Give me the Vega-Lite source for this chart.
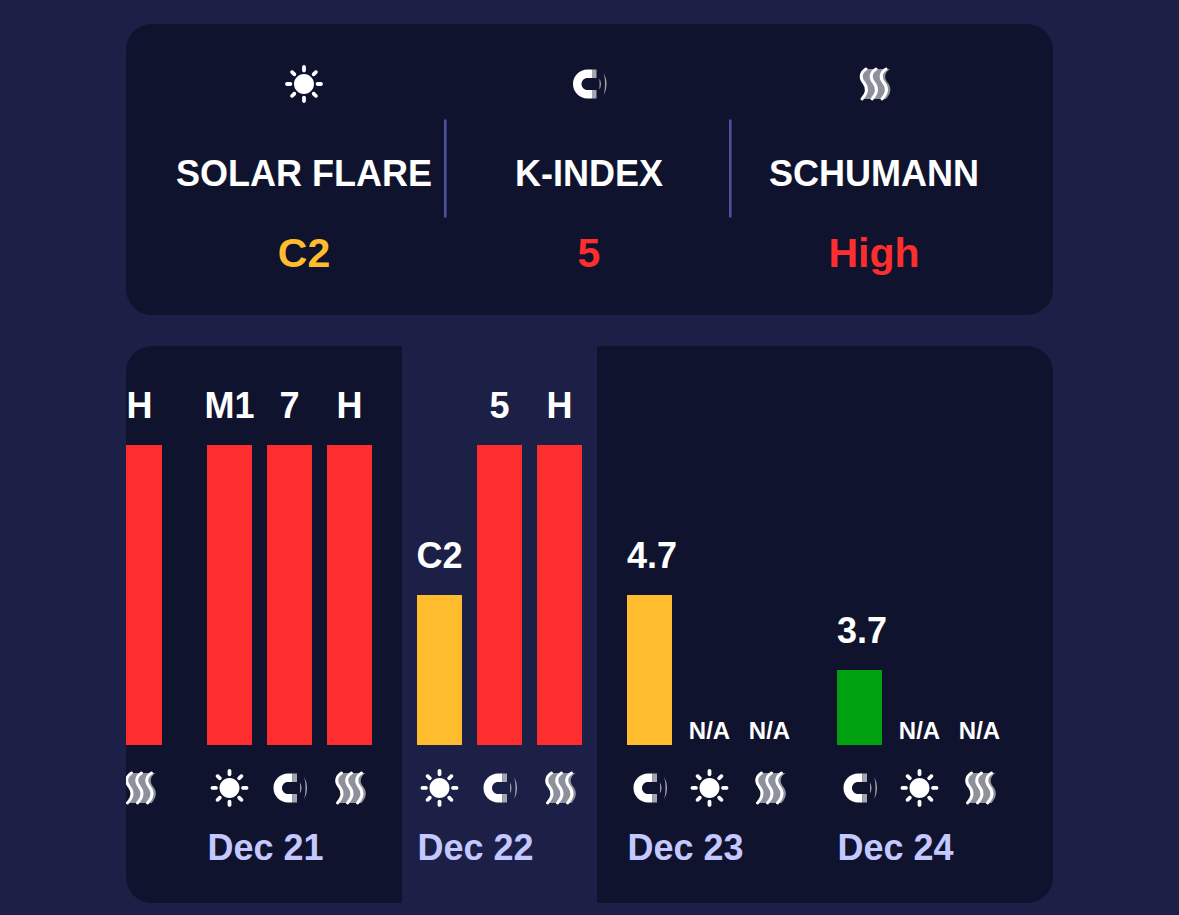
{"$schema":"https://vega.github.io/schema/vega-lite/v6.json","background":"#1c2046","padding":{"left":126,"top":24,"right":126,"bottom":12},"bounds":"flush","spacing":31,"config":{"view":{"stroke":null},"text":{"font":"Liberation Sans","fontWeight":"bold"}},"datasets":{"current":[{"metric":"SOLAR FLARE","icon":"sun","label":"C2","severity":"moderate"},{"metric":"K-INDEX","icon":"magnet","label":"5","severity":"high"},{"metric":"SCHUMANN","icon":"steam","label":"High","severity":"high"}],"days":[{"date":"Dec 20","slot":"c","icon":"steam","label":"H","level":4,"severity":"high"},{"date":"Dec 21","slot":"a","icon":"sun","label":"M1","level":4,"severity":"high"},{"date":"Dec 21","slot":"b","icon":"magnet","label":"7","level":4,"severity":"high"},{"date":"Dec 21","slot":"c","icon":"steam","label":"H","level":4,"severity":"high"},{"date":"Dec 22","slot":"a","icon":"sun","label":"C2","level":2,"severity":"moderate"},{"date":"Dec 22","slot":"b","icon":"magnet","label":"5","level":4,"severity":"high"},{"date":"Dec 22","slot":"c","icon":"steam","label":"H","level":4,"severity":"high"},{"date":"Dec 23","slot":"a","icon":"magnet","label":"4.7","level":2,"severity":"moderate"},{"date":"Dec 23","slot":"b","icon":"sun","label":"N/A","level":0,"severity":"none"},{"date":"Dec 23","slot":"c","icon":"steam","label":"N/A","level":0,"severity":"none"},{"date":"Dec 24","slot":"a","icon":"magnet","label":"3.7","level":1,"severity":"low"},{"date":"Dec 24","slot":"b","icon":"sun","label":"N/A","level":0,"severity":"none"},{"date":"Dec 24","slot":"c","icon":"steam","label":"N/A","level":0,"severity":"none"}]},"vconcat":[{"width":927,"height":291,"view":{"fill":"#10132e","cornerRadius":26,"stroke":null},"data":{"name":"current"},"encoding":{"x":{"field":"metric","type":"nominal","sort":null,"axis":null,"scale":{"type":"band","domain":["SOLAR FLARE","K-INDEX","SCHUMANN"],"range":[35.5,890.5],"paddingInner":0,"paddingOuter":0}}},"layer":[{"transform":[{"filter":"datum.metric!='SCHUMANN'"}],"mark":{"type":"tick","orient":"vertical","size":98,"thickness":2.6,"color":"#4a5299","opacity":1},"encoding":{"x":{"field":"metric","type":"nominal","bandPosition":0.9958,"axis":null},"y":{"datum":"title","type":"nominal","axis":null,"scale":{"type":"point","domain":["icon","title","value"],"range":[60,229],"padding":0}}}},{"mark":{"type":"text","fontSize":36,"color":"#ffffff","dy":6.5,"baseline":"middle"},"encoding":{"y":{"datum":"title","type":"nominal","axis":null},"text":{"field":"metric"}}},{"mark":{"type":"text","fontSize":41,"dy":2,"baseline":"middle"},"encoding":{"y":{"datum":"value","type":"nominal","axis":null},"text":{"field":"label"},"color":{"field":"severity","type":"nominal","legend":null,"scale":{"domain":["high","moderate","low"],"range":["#ff2e2e","#ffbd2e","#00a110"]}}}},{"transform":[{"filter":"datum.icon=='sun'"}],"mark":{"type":"point","filled":true,"opacity":1,"color":"#ffffff","size":1600,"shape":"M-.5,0A.5,.5,0,1,1,.5,0A.5,.5,0,1,1,-.5,0ZM.68,-.095L.85,-.095A.095,.095,0,0,1,.85,.095L.68,.095A.095,.095,0,0,1,.68,-.095ZM.095,.68L.095,.85A.095,.095,0,0,1,-.095,.85L-.095,.68A.095,.095,0,0,1,.095,.68ZM-.68,.095L-.85,.095A.095,.095,0,0,1,-.85,-.095L-.68,-.095A.095,.095,0,0,1,-.68,.095ZM-.095,-.68L-.095,-.85A.095,.095,0,0,1,.095,-.85L.095,-.68A.095,.095,0,0,1,-.095,-.68ZM.547,.413L.667,.533A.095,.095,0,0,1,.533,.667L.413,.547A.095,.095,0,0,1,.547,.413ZM-.413,.547L-.533,.667A.095,.095,0,0,1,-.667,.533L-.547,.413A.095,.095,0,0,1,-.413,.547ZM-.547,-.413L-.667,-.533A.095,.095,0,0,1,-.533,-.667L-.413,-.547A.095,.095,0,0,1,-.547,-.413ZM.413,-.547L.533,-.667A.095,.095,0,0,1,.667,-.533L.547,-.413A.095,.095,0,0,1,.413,-.547Z"},"encoding":{"y":{"datum":"icon","type":"nominal","axis":null}}},{"transform":[{"filter":"datum.icon=='magnet'"}],"mark":{"type":"point","filled":true,"opacity":1,"color":"#ffffff","size":1600,"shape":"M.15,-.725L-.075,-.725A.725,.725,0,0,0,-.075,.725L.15,.725L.15,.3L-.075,.3A.3,.3,0,0,1,-.075,-.3L.15,-.3Z"},"encoding":{"y":{"datum":"icon","type":"nominal","axis":null}}},{"transform":[{"filter":"datum.icon=='magnet'"}],"mark":{"type":"point","filled":true,"opacity":1,"color":"#a2a4ae","size":1600,"shape":"M.15,-.725L.375,-.725L.375,-.3L.15,-.3ZM.15,.3L.375,.3L.375,.725L.15,.725ZM.52,-.28Q.68,0,.52,.28Q.54,0,.52,-.28ZM.74,-.55Q1.02,0,.74,.55Q.86,0,.74,-.55Z"},"encoding":{"y":{"datum":"icon","type":"nominal","axis":null}}},{"transform":[{"filter":"datum.icon=='steam'"}],"mark":{"type":"point","filled":true,"opacity":1,"color":"#8e909c","size":1600,"shape":"M-.4,-.75C-.7,-.56,-.7,-.28,-.5,-.05C-.35,.14,-.3,.42,-.6,.75L-.1,.75C.2,.42,.15,.14,0,-.05C-.2,-.28,-.2,-.56,.1,-.75ZM.1,-.75C-.2,-.56,-.2,-.28,0,-.05C.15,.14,.2,.42,-.1,.75L.4,.75C.7,.42,.65,.14,.5,-.05C.3,-.28,.3,-.56,.6,-.75ZM.6,-.75C.3,-.56,.3,-.28,.5,-.05C.65,.14,.7,.42,.4,.75L.6,.75C.9,.42,.85,.14,.7,-.05C.5,-.28,.5,-.56,.8,-.75Z"},"encoding":{"y":{"datum":"icon","type":"nominal","axis":null}}},{"transform":[{"filter":"datum.icon=='steam'"}],"mark":{"type":"point","filled":false,"opacity":1,"color":"#ffffff","strokeWidth":3,"strokeCap":"round","size":1600,"shape":"M-.4,-.75C-.7,-.56,-.7,-.28,-.5,-.05C-.35,.14,-.3,.42,-.6,.75M.1,-.75C-.2,-.56,-.2,-.28,0,-.05C.15,.14,.2,.42,-.1,.75M.6,-.75C.3,-.56,.3,-.28,.5,-.05C.65,.14,.7,.42,.4,.75"},"encoding":{"y":{"datum":"icon","type":"nominal","axis":null}}}]},{"width":927,"height":557,"view":{"fill":"#10132e","cornerRadius":26,"stroke":null},"data":{"name":"days"},"encoding":{"x":{"field":"date","type":"nominal","sort":null,"axis":null,"scale":{"type":"band","domain":["Dec 20","Dec 21","Dec 22","Dec 23","Dec 24"],"range":[-151.5,898.5],"paddingInner":0.142857,"paddingOuter":0.0714285}}},"layer":[{"transform":[{"filter":"datum.date=='Dec 22' && datum.slot=='a'"}],"mark":{"type":"bar","width":195,"color":"#1c2046"}},{"encoding":{"xOffset":{"field":"slot","type":"nominal","sort":null,"scale":{"type":"band","domain":["a","b","c"],"paddingInner":0.25,"paddingOuter":0.125}}},"layer":[{"transform":[{"filter":"datum.level>0"}],"mark":{"type":"bar","clip":true},"encoding":{"y":{"field":"level","type":"quantitative","axis":null,"scale":{"domain":[-2.1067,5.32],"range":[557,0],"nice":false,"zero":false}},"color":{"field":"severity","type":"nominal","legend":null,"scale":{"domain":["high","moderate","low"],"range":["#ff2e2e","#ffbd2e","#00a110"]}}}},{"transform":[{"filter":"datum.level>0 && length(datum.label)<3"}],"mark":{"type":"text","fontSize":36,"color":"#ffffff","dy":-38,"baseline":"middle"},"encoding":{"y":{"field":"level","type":"quantitative","axis":null},"text":{"field":"label"}}},{"transform":[{"filter":"datum.level>0 && length(datum.label)>=3"}],"mark":{"type":"text","fontSize":36,"color":"#ffffff","dy":-38,"align":"left","dx":-22.5,"baseline":"middle"},"encoding":{"y":{"field":"level","type":"quantitative","axis":null},"text":{"field":"label"}}},{"transform":[{"filter":"datum.level==0"}],"mark":{"type":"text","fontSize":24,"color":"#ffffff","dy":-13,"baseline":"middle"},"encoding":{"y":{"field":"level","type":"quantitative","axis":null},"text":{"field":"label"}}},{"transform":[{"filter":"datum.icon=='sun'"}],"mark":{"type":"point","filled":true,"opacity":1,"color":"#ffffff","size":1600,"clip":true,"shape":"M-.5,0A.5,.5,0,1,1,.5,0A.5,.5,0,1,1,-.5,0ZM.68,-.095L.85,-.095A.095,.095,0,0,1,.85,.095L.68,.095A.095,.095,0,0,1,.68,-.095ZM.095,.68L.095,.85A.095,.095,0,0,1,-.095,.85L-.095,.68A.095,.095,0,0,1,.095,.68ZM-.68,.095L-.85,.095A.095,.095,0,0,1,-.85,-.095L-.68,-.095A.095,.095,0,0,1,-.68,.095ZM-.095,-.68L-.095,-.85A.095,.095,0,0,1,.095,-.85L.095,-.68A.095,.095,0,0,1,-.095,-.68ZM.547,.413L.667,.533A.095,.095,0,0,1,.533,.667L.413,.547A.095,.095,0,0,1,.547,.413ZM-.413,.547L-.533,.667A.095,.095,0,0,1,-.667,.533L-.547,.413A.095,.095,0,0,1,-.413,.547ZM-.547,-.413L-.667,-.533A.095,.095,0,0,1,-.533,-.667L-.413,-.547A.095,.095,0,0,1,-.547,-.413ZM.413,-.547L.533,-.667A.095,.095,0,0,1,.667,-.533L.547,-.413A.095,.095,0,0,1,.413,-.547Z"},"encoding":{"y":{"datum":-0.573,"type":"quantitative","axis":null}}},{"transform":[{"filter":"datum.icon=='magnet'"}],"mark":{"type":"point","filled":true,"opacity":1,"color":"#ffffff","size":1600,"shape":"M.15,-.725L-.075,-.725A.725,.725,0,0,0,-.075,.725L.15,.725L.15,.3L-.075,.3A.3,.3,0,0,1,-.075,-.3L.15,-.3Z"},"encoding":{"y":{"datum":-0.573,"type":"quantitative","axis":null}}},{"transform":[{"filter":"datum.icon=='magnet'"}],"mark":{"type":"point","filled":true,"opacity":1,"color":"#a2a4ae","size":1600,"shape":"M.15,-.725L.375,-.725L.375,-.3L.15,-.3ZM.15,.3L.375,.3L.375,.725L.15,.725ZM.52,-.28Q.68,0,.52,.28Q.54,0,.52,-.28ZM.74,-.55Q1.02,0,.74,.55Q.86,0,.74,-.55Z"},"encoding":{"y":{"datum":-0.573,"type":"quantitative","axis":null}}},{"transform":[{"filter":"datum.icon=='steam'"}],"mark":{"type":"point","filled":true,"opacity":1,"color":"#8e909c","size":1600,"clip":true,"shape":"M-.4,-.75C-.7,-.56,-.7,-.28,-.5,-.05C-.35,.14,-.3,.42,-.6,.75L-.1,.75C.2,.42,.15,.14,0,-.05C-.2,-.28,-.2,-.56,.1,-.75ZM.1,-.75C-.2,-.56,-.2,-.28,0,-.05C.15,.14,.2,.42,-.1,.75L.4,.75C.7,.42,.65,.14,.5,-.05C.3,-.28,.3,-.56,.6,-.75ZM.6,-.75C.3,-.56,.3,-.28,.5,-.05C.65,.14,.7,.42,.4,.75L.6,.75C.9,.42,.85,.14,.7,-.05C.5,-.28,.5,-.56,.8,-.75Z"},"encoding":{"y":{"datum":-0.573,"type":"quantitative","axis":null}}},{"transform":[{"filter":"datum.icon=='steam'"}],"mark":{"type":"point","filled":false,"opacity":1,"color":"#ffffff","strokeWidth":3,"strokeCap":"round","size":1600,"clip":true,"shape":"M-.4,-.75C-.7,-.56,-.7,-.28,-.5,-.05C-.35,.14,-.3,.42,-.6,.75M.1,-.75C-.2,-.56,-.2,-.28,0,-.05C.15,.14,.2,.42,-.1,.75M.6,-.75C.3,-.56,.3,-.28,.5,-.05C.65,.14,.7,.42,.4,.75"},"encoding":{"y":{"datum":-0.573,"type":"quantitative","axis":null}}},{"transform":[{"filter":"datum.slot=='a'"}],"mark":{"type":"text","fontSize":36,"color":"#c5c8ff","align":"left","dx":-22,"dy":2,"baseline":"middle"},"encoding":{"y":{"datum":-1.36,"type":"quantitative","axis":null},"text":{"field":"date"}}}]}]}]}
